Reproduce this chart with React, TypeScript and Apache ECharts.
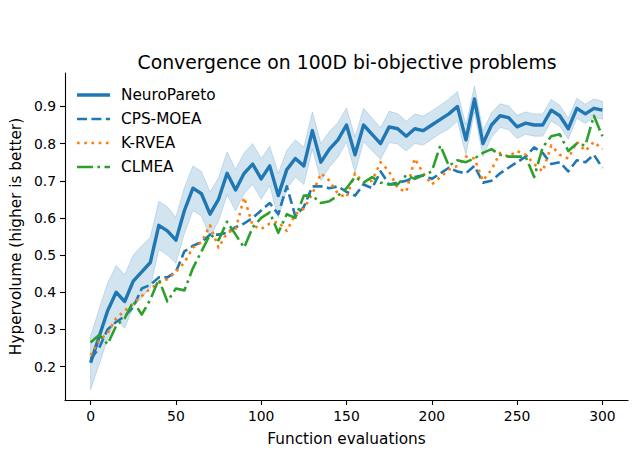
import React, { useEffect, useRef } from "react";
import * as echarts from "echarts";

const evals = [0, 5, 10, 15, 20, 25, 30, 35, 40, 45, 50, 55, 60, 65, 70, 75, 80, 85, 90, 95, 100, 105, 110, 115, 120, 125, 130, 135, 140, 145, 150, 155, 160, 165, 170, 175, 180, 185, 190, 195, 200, 205, 210, 215, 220, 225, 230, 235, 240, 245, 250, 255, 260, 265, 270, 275, 280, 285, 290, 295, 300];

const neuroPareto = [0.21, 0.28, 0.35, 0.40, 0.375, 0.43, 0.455, 0.48, 0.58, 0.565, 0.54, 0.62, 0.68, 0.665, 0.61, 0.65, 0.72, 0.675, 0.72, 0.745, 0.705, 0.74, 0.66, 0.73, 0.76, 0.74, 0.835, 0.75, 0.785, 0.81, 0.85, 0.77, 0.85, 0.825, 0.80, 0.845, 0.84, 0.82, 0.84, 0.835, 0.85, 0.865, 0.88, 0.90, 0.81, 0.92, 0.80, 0.85, 0.875, 0.87, 0.845, 0.855, 0.85, 0.85, 0.89, 0.875, 0.84, 0.895, 0.88, 0.895, 0.89];

const neuroParetoSpread = [0.072, 0.075, 0.075, 0.072, 0.072, 0.07, 0.07, 0.068, 0.065, 0.065, 0.062, 0.062, 0.06, 0.06, 0.06, 0.058, 0.058, 0.056, 0.055, 0.055, 0.055, 0.053, 0.06, 0.052, 0.05, 0.05, 0.05, 0.05, 0.048, 0.047, 0.046, 0.048, 0.045, 0.044, 0.043, 0.042, 0.041, 0.04, 0.04, 0.039, 0.038, 0.038, 0.04, 0.04, 0.04, 0.035, 0.035, 0.033, 0.032, 0.032, 0.031, 0.03, 0.03, 0.03, 0.029, 0.028, 0.028, 0.027, 0.026, 0.025, 0.024];

const cpsMoea = [0.22, 0.25, 0.30, 0.32, 0.335, 0.36, 0.41, 0.42, 0.44, 0.44, 0.455, 0.51, 0.525, 0.535, 0.555, 0.555, 0.56, 0.575, 0.585, 0.60, 0.62, 0.64, 0.61, 0.685, 0.605, 0.63, 0.685, 0.685, 0.68, 0.685, 0.67, 0.66, 0.69, 0.68, 0.725, 0.69, 0.695, 0.70, 0.71, 0.715, 0.705, 0.72, 0.735, 0.725, 0.72, 0.74, 0.695, 0.70, 0.72, 0.735, 0.75, 0.765, 0.79, 0.775, 0.745, 0.75, 0.725, 0.755, 0.75, 0.77, 0.735];

const kRvea = [0.23, 0.27, 0.29, 0.33, 0.35, 0.37, 0.39, 0.41, 0.425, 0.435, 0.455, 0.48, 0.52, 0.535, 0.58, 0.52, 0.56, 0.57, 0.655, 0.58, 0.57, 0.585, 0.59, 0.565, 0.61, 0.625, 0.665, 0.72, 0.70, 0.665, 0.655, 0.72, 0.695, 0.70, 0.75, 0.725, 0.68, 0.67, 0.76, 0.72, 0.69, 0.71, 0.73, 0.74, 0.765, 0.76, 0.70, 0.73, 0.775, 0.765, 0.78, 0.77, 0.745, 0.725, 0.795, 0.77, 0.76, 0.805, 0.78, 0.805, 0.785];

const clmea = [0.265, 0.285, 0.26, 0.31, 0.33, 0.375, 0.34, 0.38, 0.435, 0.375, 0.41, 0.405, 0.465, 0.51, 0.555, 0.54, 0.59, 0.555, 0.52, 0.575, 0.60, 0.615, 0.56, 0.61, 0.60, 0.66, 0.66, 0.64, 0.645, 0.66, 0.68, 0.71, 0.695, 0.71, 0.695, 0.69, 0.69, 0.715, 0.705, 0.715, 0.725, 0.795, 0.74, 0.755, 0.75, 0.76, 0.775, 0.785, 0.77, 0.765, 0.765, 0.765, 0.71, 0.79, 0.82, 0.825, 0.78, 0.80, 0.795, 0.875, 0.82];

const xTicks = [0, 50, 100, 150, 200, 250, 300];
const yTicks = [0.2, 0.3, 0.4, 0.5, 0.6, 0.7, 0.8, 0.9];

const FONT = "DejaVu Sans";
const BLUE = "#1f77b4";
const ORANGE = "#ff7f0e";
const GREEN = "#2ca02c";

const legendItems = [
  { name: "NeuroPareto", color: BLUE, width: 3.4, dash: null as number[] | null },
  { name: "CPS-MOEA", color: BLUE, width: 2.6, dash: [10, 4.4] },
  { name: "K-RVEA", color: ORANGE, width: 2.6, dash: [2.7, 4.5] },
  { name: "CLMEA", color: GREEN, width: 2.6, dash: [16, 4.4, 2.7, 4.4] },
];

export default function App() {
  const ref = useRef<HTMLDivElement>(null);

  useEffect(() => {
    if (!ref.current) return;
    const chart = echarts.init(ref.current, null, { renderer: "svg" });

    const pair = (arr: number[]) => evals.map((x, i) => [x, arr[i]]);
    const bandData = evals.map((x, i) => [
      x,
      neuroPareto[i] - neuroParetoSpread[i],
      neuroPareto[i] + neuroParetoSpread[i],
    ]);

    const lineSeries = [
      { name: "NeuroPareto", data: neuroPareto },
      { name: "CPS-MOEA", data: cpsMoea },
      { name: "K-RVEA", data: kRvea },
      { name: "CLMEA", data: clmea },
    ].map((s, k) => {
      const li = legendItems[k];
      return {
        type: "line",
        name: s.name,
        data: pair(s.data),
        showSymbol: false,
        symbol: "none",
        z: 3 + k,
        lineStyle: {
          color: li.color,
          width: li.width,
          type: li.dash ? li.dash : "solid",
          cap: "butt",
          join: "round",
        },
        emphasis: { disabled: true },
      };
    });

    const legendGraphics: any[] = [];
    legendItems.forEach((li, k) => {
      const yc = 95 + k * 24;
      legendGraphics.push({
        type: "line",
        shape: { x1: 77, y1: yc, x2: 110, y2: yc },
        style: {
          stroke: li.color,
          lineWidth: li.width,
          lineDash: li.dash ? li.dash : null,
          lineCap: "butt",
        },
        z: 100,
      });
      legendGraphics.push({
        type: "text",
        x: 121,
        y: yc,
        style: {
          text: li.name,
          fill: "#000",
          font: `15.3px "${FONT}"`,
          fontSize: 15.3,
          fontFamily: FONT,
          verticalAlign: "middle",
          textVerticalAlign: "middle",
          align: "left",
        },
        z: 100,
      });
    });

    chart.setOption({
      animation: false,
      backgroundColor: "#fff",
      title: {
        text: "Convergence on 100D bi-objective problems",
        left: 342,
        top: 48,
        textAlign: "center",
        textStyle: { fontFamily: FONT, fontSize: 18.8, fontWeight: "normal", color: "#000" },
      },
      grid: { left: 63, right: 8, top: 73, bottom: 51, containLabel: false },
      xAxis: {
        type: "value",
        min: -15,
        max: 315,
        name: "Function evaluations",
        nameLocation: "middle",
        nameGap: 31,
        nameTextStyle: { fontFamily: FONT, fontSize: 15.3, color: "#000" },
        axisLine: { show: true, onZero: false, lineStyle: { color: "#000", width: 1.1 } },
        axisTick: { show: true, length: 5, lineStyle: { color: "#000", width: 1.1 }, customValues: xTicks },
        axisLabel: { fontFamily: FONT, fontSize: 13.9, color: "#000", margin: 9, customValues: xTicks },
        splitLine: { show: false },
      },
      yAxis: {
        type: "value",
        min: 0.11,
        max: 0.99,
        name: "Hypervolume (higher is better)",
        nameLocation: "middle",
        nameRotate: 90,
        nameGap: 39,
        nameTextStyle: { fontFamily: FONT, fontSize: 15.3, color: "#000" },
        axisLine: { show: true, onZero: false, lineStyle: { color: "#000", width: 1.1 } },
        axisTick: { show: true, length: 5, lineStyle: { color: "#000", width: 1.1 }, customValues: yTicks },
        axisLabel: {
          fontFamily: FONT,
          fontSize: 13.9,
          color: "#000",
          margin: 9,
          customValues: yTicks,
          formatter: (v: number) => v.toFixed(1),
        },
        splitLine: { show: false },
      },
      graphic: legendGraphics,
      series: [
        {
          type: "custom",
          name: "NeuroPareto band",
          data: bandData,
          encode: { x: 0, y: [1, 2] },
          z: 1,
          silent: true,
          renderItem: (params: any, api: any) => {
            if (params.dataIndex !== 0) return null;
            const upper = bandData.map((d) => api.coord([d[0], d[2]]));
            const lower = bandData.map((d) => api.coord([d[0], d[1]])).reverse();
            return {
              type: "polygon",
              shape: { points: upper.concat(lower) },
              style: { fill: "rgba(31,119,180,0.2)", stroke: "rgba(31,119,180,0.2)", lineWidth: 1 },
            };
          },
        },
        ...lineSeries,
      ],
    });

    return () => chart.dispose();
  }, []);

  return (
    <div
      ref={ref}
      style={{ position: "absolute", left: 0, top: 0, width: 636, height: 451 }}
    />
  );
}
